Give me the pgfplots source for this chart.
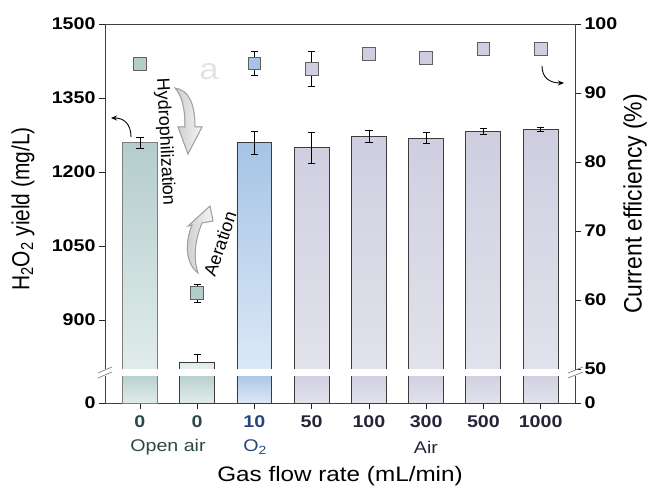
\documentclass[border=0pt]{standalone}
\usepackage{pgfplots}
\pgfplotsset{compat=1.18}
\usepackage{fontspec}
\setmainfont{Liberation Sans}
\newfontfamily\widefont{Liberation Sans}[FakeStretch=1.16]
\usetikzlibrary{arrows.meta}

% bar and marker colours
\definecolor{tealT}{RGB}{180,205,203}
\definecolor{tealB}{RGB}{225,236,236}
\definecolor{tealL}{RGB}{230,240,240}
\definecolor{blueT}{RGB}{166,196,229}
\definecolor{blueB}{RGB}{220,232,246}
\definecolor{lavT}{RGB}{206,206,224}
\definecolor{lavB}{RGB}{226,226,236}
\definecolor{txtTeal}{RGB}{45,72,72}
\definecolor{txtBlue}{RGB}{38,68,128}
\definecolor{txtNavy}{RGB}{36,36,58}
\definecolor{edge}{RGB}{60,60,60}
\definecolor{edgeL}{RGB}{125,125,125}
\definecolor{mkedge}{RGB}{95,95,95}

\pgfplotsset{
  brk/.style={
    scale only axis, width=470bp, xmin=-0.61, xmax=7.6,
    major tick length=6bp, tick align=outside,
    tick style={black!85, line width=0.7bp},
    axis line style={line width=0.8bp, black!75},
    /pgf/number format/assume math mode=true,
    tick label style={font=\widefont\bfseries\fontsize{17}{17}\selectfont},
  },
  onebar/.style={ybar, bar shift=0pt, bar width=0.61, line width=0.9bp},
  errs/.style={error bars/.cd, y dir=#1, y explicit,
    error bar style={line width=0.8bp, black},
    error mark options={rotate=90, mark size=3.6bp, line width=0.8bp, black}},
  sq/.style={only marks, mark=square*, mark size=6.3bp,
    mark options={fill=#1, draw=mkedge, line width=0.8bp}},
}

\begin{document}
\begin{tikzpicture}
\useasboundingbox (0,0) rectangle (648bp,488bp);

% ---------- upper segment, H2O2 yield ----------
\begin{axis}[brk, at={(105bp,119bp)}, anchor=south west, height=345bp,
  ymin=801, ymax=1500,
  y coord trafo/.code={\pgfmathparse{#1-795}},
  y coord inv trafo/.code={\pgfmathparse{#1+795}},
  axis y line*=left, axis x line*=top, xtick=\empty,
  ytick={900,1050,1200,1350,1500}, yticklabels={900,1050,1200,1350,1500}]
\addplot[onebar, draw=edgeL, top color=tealT, bottom color=tealB, errs=both]
  coordinates {(0,1259) +- (0,12)};
\addplot[onebar, draw=edge, top color=tealL!85!tealT, bottom color=tealL, errs=plus]
  coordinates {(1,815) +- (0,16)};
\addplot[onebar, draw=edge, top color=blueT, bottom color=blueB, errs=both]
  coordinates {(2,1259) +- (0,23)};
\addplot[onebar, draw=edge, top color=lavT, bottom color=lavB, errs=both]
  coordinates {(3,1249) +- (0,32) (4,1273) +- (0,12) (5,1269) +- (0,11)
               (6,1283) +- (0,6) (7,1287) +- (0,4)};
\end{axis}

% ---------- upper segment, current efficiency ----------
\begin{axis}[brk, at={(105bp,119bp)}, anchor=south west, height=345bp,
  ymin=50, ymax=100, axis y line*=right, axis x line=none,
  ytick={50,60,70,80,90,100}, clip=false]
\addplot[sq=tealT, errs=both] coordinates {(0,94.2) +- (0,0.2) (1,61.0) +- (0,1.3)};
\addplot[sq=blueT, errs=both] coordinates {(2,94.3) +- (0,1.8)};
\addplot[sq=lavT, errs=both] coordinates {(3,93.5) +- (0,2.5) (4,95.7) +- (0,0.4)
  (5,95.1) +- (0,0.4) (6,96.4) +- (0,0.6) (7,96.4) +- (0,0.6)};
\end{axis}

% ---------- lower segment ----------
\begin{axis}[brk, at={(105bp,85bp)}, anchor=south west, height=27bp,
  ymin=0, ymax=55,
  y coord trafo/.code={\pgfmathparse{min(#1,62)}},
  y coord inv trafo/.code={\pgfmathparse{#1}},
  axis y line*=left, axis x line*=bottom,
  ytick={0}, yticklabels={0},
  xtick={0,1,2,3,4,5,6,7},
  xticklabel style={yshift=-3bp},
  xticklabels={\color{txtTeal}0,\color{txtTeal}0,\color{txtBlue}10,\color{txtNavy}50,
    \color{txtNavy}100,\color{txtNavy}300,\color{txtNavy}500,\color{txtNavy}1000}]
\addplot[onebar, draw=edgeL, top color=tealT, bottom color=tealB] coordinates {(0,1259)};
\addplot[onebar, draw=edge, top color=tealT, bottom color=tealB] coordinates {(1,815)};
\addplot[onebar, draw=edge, top color=blueT, bottom color=blueB] coordinates {(2,1259)};
\addplot[onebar, draw=edge, top color=lavT, bottom color=lavB]
  coordinates {(3,1249) (4,1273) (5,1269) (6,1283) (7,1287)};
\end{axis}
\begin{axis}[brk, at={(105bp,85bp)}, anchor=south west, height=27bp,
  ymin=0, ymax=55, axis y line*=right, axis x line=none, ytick={0}]
\end{axis}

% ---------- labels and annotations (1 unit = 1 image pixel, y downward) ----------
\begin{scope}[x=1bp, y=-1bp, yshift=488bp]
  % axis breaks
  \draw[gray, line width=0.7bp] (98,373) -- (112,367) (98,378) -- (112,372);
  \draw[gray, line width=0.7bp] (568,373) -- (583,367) (568,378) -- (583,372);

  % axis titles
  \node[rotate=90, yscale=1.18, font=\fontsize{21}{21}\selectfont] at (23,209)
    {H\textsubscript{2}O\textsubscript{2} yield (mg/L)};
  \node[rotate=90, yscale=1.1, font=\fontsize{23}{23}\selectfont] at (635,204)
    {Current efficiency (\%)};
  \node[font=\widefont\fontsize{21}{21}\selectfont] at (340,476)
    {Gas flow rate (mL/min)};

  % gas groups
  \node[font=\widefont\fontsize{17}{17}\selectfont, text=txtTeal] at (168,447) {Open air};
  \node[font=\widefont\fontsize{17}{17}\selectfont, text=txtBlue] at (255,447) {O\textsubscript{2}};
  \node[font=\widefont\fontsize{17}{17}\selectfont, text=txtNavy] at (426,447) {Air};

  % panel letter
  \node[font=\widefont\fontsize{30}{30}\selectfont, text=gray!22] at (209,72) {a};

  % which axis each series belongs to
  \draw[-{Stealth[length=6bp,width=5bp]}, line width=0.9bp] (131,137) .. controls (131,123) and (123,118) .. (111,118);
  \draw[-{Stealth[length=6bp,width=5bp]}, line width=0.9bp] (542,66) .. controls (542,78) and (550,83) .. (564,83);

  % hydrophilization
  \node[rotate=-87, font=\fontsize{18}{18}\selectfont] at (165,142) {Hydrophilization};
  \filldraw[draw=gray!75, left color=gray!40, right color=gray!8, line width=1bp]
    (175,88) .. controls (189,90) and (195,104) .. (195,127) -- (202,127) -- (188,154)
    -- (178,127) -- (185,127) .. controls (185,108) and (182,96) .. (175,88) -- cycle;

  % aeration
  \node[rotate=71, font=\fontsize{18}{18}\selectfont] at (220,244) {Aeration};
  \filldraw[draw=gray!75, left color=gray!40, right color=gray!8, line width=1bp]
    (198,273) .. controls (185,263) and (185,242) .. (192,225) -- (188,226) -- (210,206)
    -- (213,221) -- (202,223) .. controls (195,240) and (193,258) .. (198,273) -- cycle;
\end{scope}
\end{tikzpicture}
\end{document}
